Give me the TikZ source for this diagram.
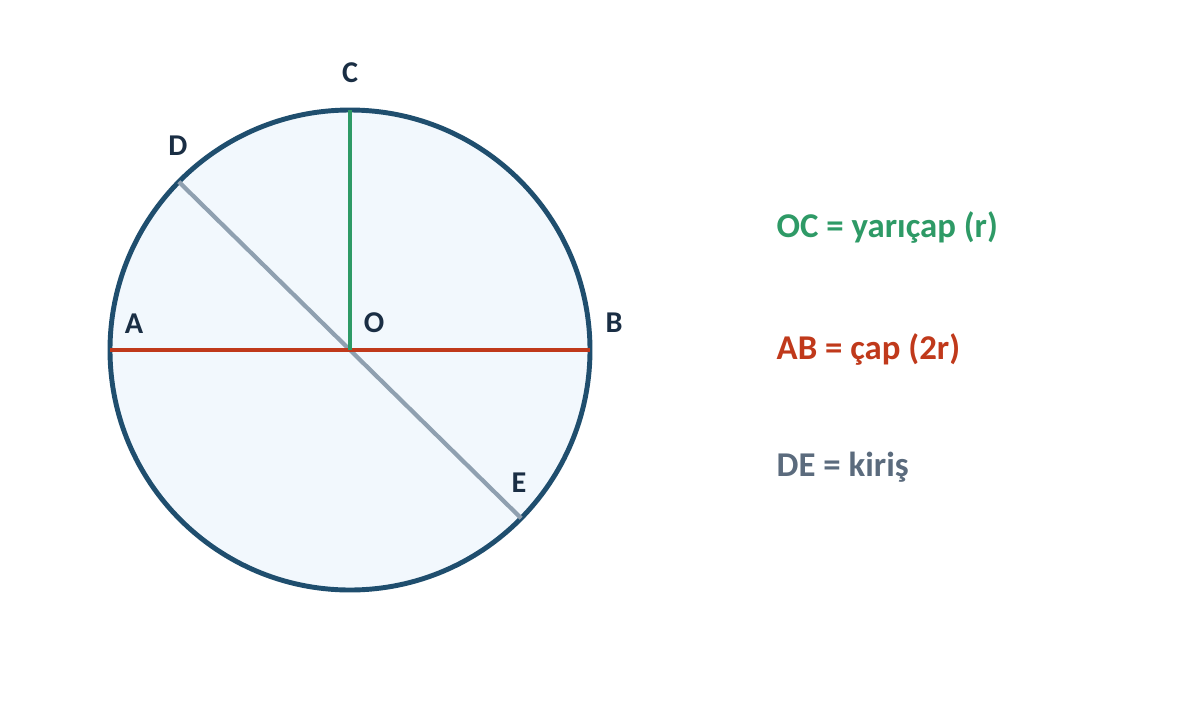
\documentclass[tikz,border=0pt]{standalone}
\usepackage{fontspec}
\setmainfont{Carlito}
\usetikzlibrary{calc,positioning}
\definecolor{rim}{HTML}{1F4E6E}
\definecolor{disc}{HTML}{F2F8FD}
\definecolor{radgreen}{HTML}{2E9A66}
\definecolor{diared}{HTML}{C0391B}
\definecolor{chordgray}{HTML}{8FA0B0}
\definecolor{chordtext}{HTML}{5B6B7D}
\definecolor{labelnavy}{HTML}{1A2E44}
\tikzset{
  point label/.style={font=\bfseries\fontsize{8.6}{10}\selectfont, text=labelnavy, inner sep=0pt},
  legend/.style={font=\bfseries\fontsize{9.9}{12}\selectfont, anchor=west, inner sep=0pt},
}

\begin{document}
\begin{tikzpicture}
  \useasboundingbox (0,0) rectangle (12,7);
  % circle
  \coordinate (O) at (3.5,3.5);
  \draw [rim, line width=1.4pt, fill=disc] (O) circle (2.4);
  \coordinate (A) at ($(O)+(180:2.4)$);
  \coordinate (B) at ($(O)+(0:2.4)$);
  \coordinate (C) at ($(O)+(90:2.4)$);
  \coordinate (D) at ($(O)+(135.5:2.4)$);
  \coordinate (E) at ($(O)+(-44.5:2.4)$);

  % chord DE
  \draw [chordgray, line width=1.2pt] (D) -- (E);
  % diameter AB
  \draw [diared, line width=1.3pt] (A) -- (B);
  % radius OC
  \draw [radgreen, line width=1.2pt] (O) -- (C);

  % point labels
  \node [point label] (label C) at (3.5,6.27) {C};
  \node [point label] (label D) at (1.78,5.54) {D};
  \node [point label] (label A) at (1.34,3.76) {A};
  \node [point label] (label O) at (3.74,3.77) {O};
  \node [point label] (label B) at (6.14,3.77) {B};
  \node [point label] (label E) at (5.19,2.17) {E};

  % legend
  \node [legend, text=radgreen] (leg OC) at (7.76,4.72) {OC = yarıçap (r)};
  \node [legend, text=diared] (leg AB) at (7.76,3.51) {AB = çap (2r)};
  \node [legend, text=chordtext] (leg DE) at (7.76,2.33) {DE = kiriş};
\end{tikzpicture}
\end{document}
